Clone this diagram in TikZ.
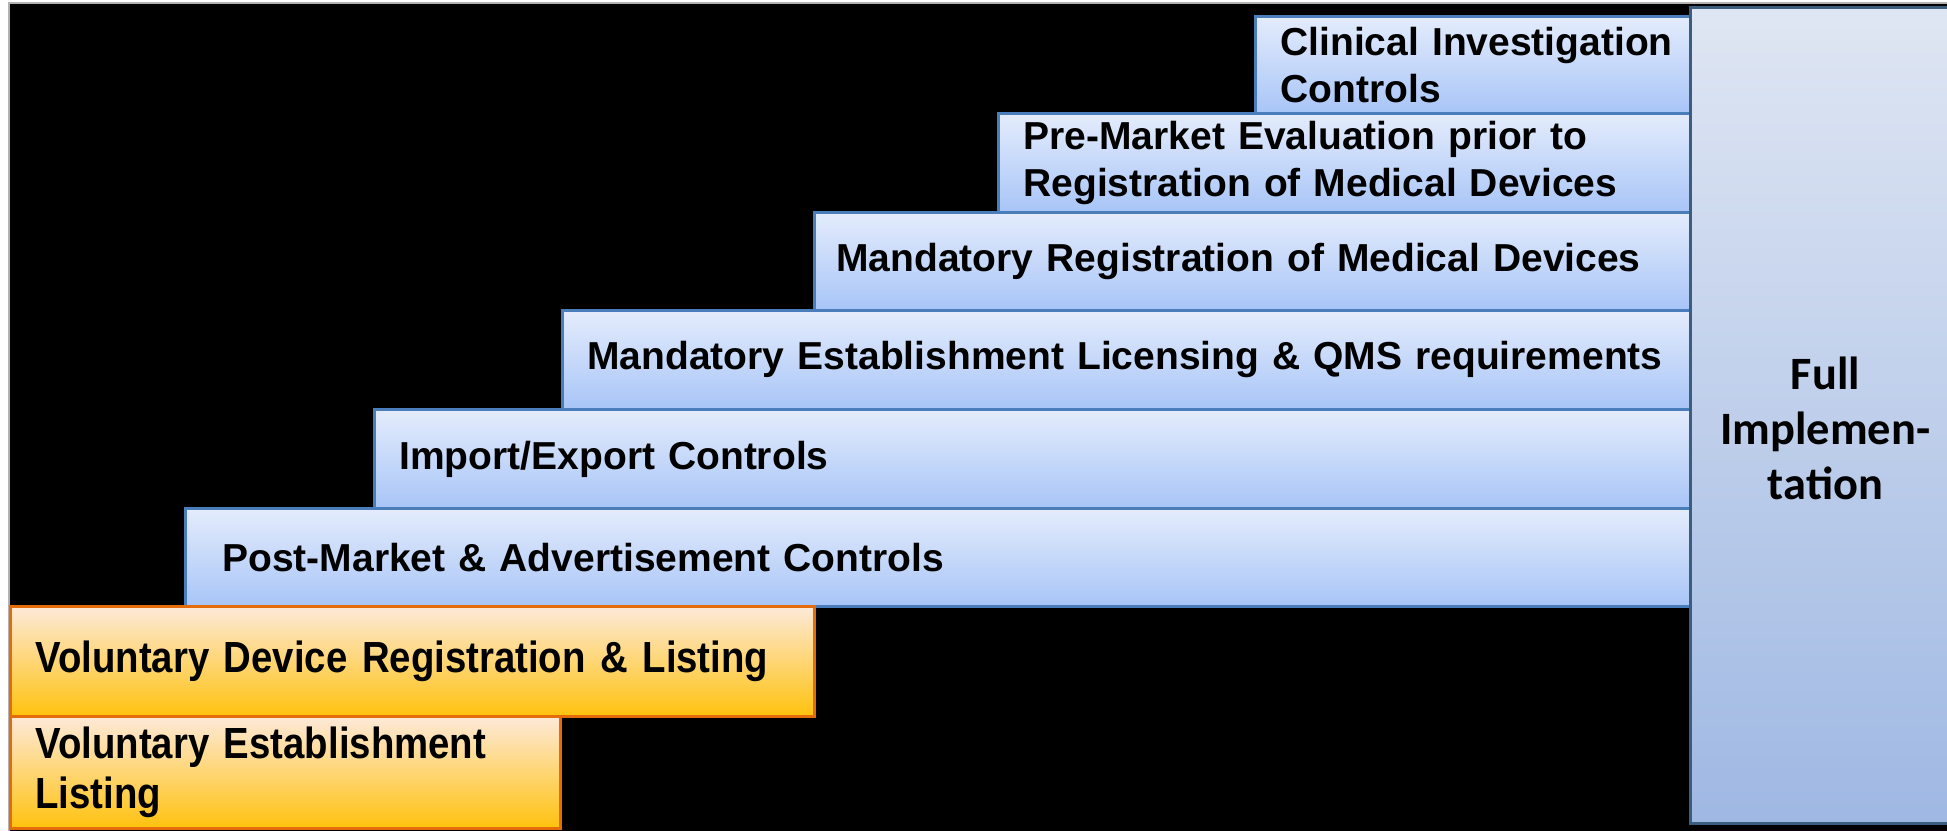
\documentclass[tikz,border=0pt]{standalone}
\usepackage{fontspec}
\setmainfont{Liberation Sans}
\newfontfamily\narrowfont[FakeStretch=0.88]{Liberation Sans}
\newfontfamily\calfont{Carlito}
\usetikzlibrary{positioning}

\definecolor{stageTop}{HTML}{E4ECFC}
\definecolor{stageBot}{HTML}{A8C5F7}
\definecolor{stageLine}{HTML}{4A7EBB}
\definecolor{volTop}{HTML}{FDE9D9}
\definecolor{volBot}{HTML}{FFC20E}
\definecolor{volLine}{HTML}{E46C0A}
\definecolor{fullTop}{HTML}{DFE6F3}
\definecolor{fullBot}{HTML}{9FB8E3}
\definecolor{fullLine}{HTML}{3B5E7E}

\begin{document}
\begin{tikzpicture}[x=0.1mm, y=-0.1mm,
    stage/.style={draw=stageLine, line width=0.8pt, top color=stageTop, bottom color=stageBot,
        anchor=north west, inner xsep=2.5mm, inner ysep=0pt, align=left,
        font=\bfseries\fontsize{11.1}{13.4}\selectfont},
    voluntary/.style={stage, draw=volLine, top color=volTop, bottom color=volBot,
        font=\narrowfont\bfseries\fontsize{12.4}{14}\selectfont},
    full/.style={draw=fullLine, line width=0.8pt, top color=fullTop, bottom color=fullBot,
        anchor=north west, align=center, font=\calfont\bfseries\fontsize{13.2}{15.6}\selectfont}]

    \useasboundingbox[fill=white] (0,0) rectangle (1947,830);
    \filldraw[fill=black, draw=gray!60, line width=0.4pt] (9,3) rectangle (1960,840);

    % the steps, top to bottom
    \node[stage, text width=40.3mm, minimum height=9.7mm, inner xsep=1.6mm] (clinical) at (1254,15)  {\hspace*{0.9mm}Clinical Investigation\\\hspace*{0.9mm}Controls};
    \node[stage, text width=64.2mm, minimum height=9.9mm] (premarket) at (997,112)  {Pre-Market Evaluation prior to\\Registration of Medical Devices};
    \node[stage, text width=83.2mm, minimum height=9.8mm, inner xsep=2.2mm] (mandreg) at (813,211)  {Mandatory Registration of Medical Devices};
    \node[stage, text width=107.8mm, minimum height=9.9mm] (mandest) at (561,309)  {Mandatory Establishment Licensing \& QMS requirements};
    \node[stage, text width=126.6mm, minimum height=9.9mm] (impexp) at (373,408)  {Import/Export Controls};
    \node[stage, text width=143.1mm, minimum height=9.8mm, inner xsep=3.7mm] (postmarket) at (184,507)  {Post-Market \& Advertisement Controls};
    \node[voluntary, text width=75.4mm, minimum height=11mm] (voldevice) at (9,605)  {Voluntary Device Registration \& Listing};
    \node[voluntary, text width=50mm, minimum height=11.2mm] (volest) at (9,715)  {Voluntary Establishment\\Listing};

    \node[full, minimum width=27mm, minimum height=81.6mm] (fullimpl) at (1689,6)
        {\raisebox{0pt}[\dimexpr\height+2.6mm\relax]{Full}\\Implemen-\\tation};

\end{tikzpicture}
\end{document}
